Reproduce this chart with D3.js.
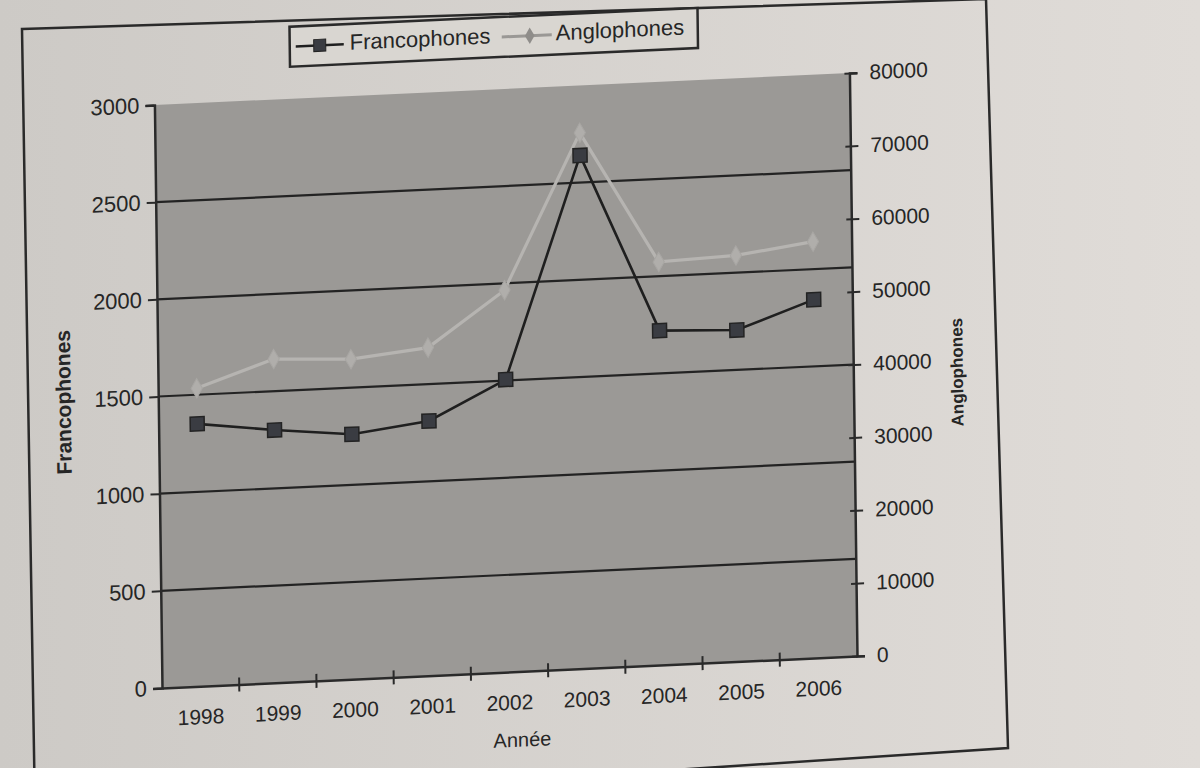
<!DOCTYPE html>
<html>
<head>
<meta charset="utf-8">
<script src="https://cdn.jsdelivr.net/npm/d3@7"></script>
<style>
  html, body { margin: 0; padding: 0; background: #d8d5d0; }
  svg { display: block; }
  text { font-family: "Liberation Sans", Arial, sans-serif; fill: #262626; }
</style>
</head>
<body>
<svg id="chart" width="1200" height="768"></svg>
<script>
// ---- data ----
const years = ["1998", "1999", "2000", "2001", "2002", "2003", "2004", "2005", "2006"];
const francophones = [1350, 1300, 1260, 1310, 1505, 2640, 1720, 1705, 1843];
const anglophones = [40900, 44400, 43900, 45000, 52400, 73500, 55300, 55700, 57100];
const leftTicks = [0, 500, 1000, 1500, 2000, 2500, 3000];
const rightTicks = [0, 10000, 20000, 30000, 40000, 50000, 60000, 70000, 80000];
const seriesNames = ["Francophones", "Anglophones"];
const xTitle = "Année";

// ---- layout ----
const svg = d3.select("#chart");
const L = 162, R = 857, T = 105, B = 688;
const skewB = -0.046, skewC = 0.013; // photo perspective approximation

// background paper
const defs = svg.append("defs");
const grad = defs.append("linearGradient").attr("id", "paper").attr("x1", "0").attr("x2", "1").attr("y1", "0").attr("y2", "0");
grad.append("stop").attr("offset", "0").attr("stop-color", "#cdcac6");
grad.append("stop").attr("offset", "1").attr("stop-color", "#e0dcd8");
svg.append("rect").attr("width", 1200).attr("height", 768).attr("fill", "url(#paper)");

// outer frame (page border)
svg.append("path")
  .attr("d", d3.line()([[22, 29], [986, -1], [1008, 748], [35, 812]]) + "Z")
  .attr("fill", "none").attr("stroke", "#2a2a2a").attr("stroke-width", 2.5);

const g = svg.append("g")
  .attr("transform", `matrix(1,${skewB},${skewC},1,${-skewC * B},${-skewB * L})`);

const x = d3.scaleBand().domain(years).range([L, R]);
const yL = d3.scaleLinear().domain([0, 3000]).range([B, T]);
const yR = d3.scaleLinear().domain([0, 80000]).range([B, T]);
const cx = d => x(d) + x.bandwidth() / 2;

// plot area
g.append("rect").attr("x", L).attr("y", T).attr("width", R - L).attr("height", B - T)
  .attr("fill", "#9b9996");

// gridlines
g.append("g").selectAll("line")
  .data(leftTicks.filter(v => v > 0 && v < 3000))
  .join("line")
  .attr("x1", L).attr("x2", R)
  .attr("y1", d => yL(d)).attr("y2", d => yL(d))
  .attr("stroke", "#232323").attr("stroke-width", 2.2);

// left axis
const axL = g.append("g").attr("transform", `translate(${L},0)`)
  .call(d3.axisLeft(yL).tickValues(leftTicks).tickFormat(d3.format("d")).tickSize(9).tickPadding(6));
axL.select(".domain").attr("stroke", "#2a2a2a").attr("stroke-width", 2.5);
axL.selectAll(".tick line").attr("stroke", "#2a2a2a").attr("stroke-width", 2);
axL.selectAll("text").style("font-size", "22px").attr("fill", "#262626");

// right axis
const axR = g.append("g").attr("transform", `translate(${R},0)`)
  .call(d3.axisRight(yR).tickValues(rightTicks).tickFormat(d3.format("d")).tickSize(8).tickPadding(12));
axR.select(".domain").attr("stroke", "#2a2a2a").attr("stroke-width", 2.5);
axR.selectAll(".tick line").attr("stroke", "#2a2a2a").attr("stroke-width", 2).attr("x1", -5);
axR.selectAll("text").style("font-size", "21px").attr("fill", "#262626");

// bottom axis (labels centred in categories, ticks between categories)
const axB = g.append("g").attr("transform", `translate(0,${B})`)
  .call(d3.axisBottom(x).tickSize(0).tickPadding(23));
axB.select(".domain").attr("stroke", "#2a2a2a").attr("stroke-width", 2.5);
axB.selectAll("text").style("font-size", "21px").attr("fill", "#262626");
g.append("g").selectAll("line")
  .data(years.slice(1))
  .join("line")
  .attr("x1", d => x(d)).attr("x2", d => x(d))
  .attr("y1", B - 7).attr("y2", B + 7)
  .attr("stroke", "#2a2a2a").attr("stroke-width", 2);

// axis titles
g.append("text").attr("transform", `translate(69,398) rotate(-90)`)
  .attr("text-anchor", "middle").attr("dominant-baseline", "middle")
  .style("font-size", "21px").style("font-weight", "bold").text(seriesNames[0]);
g.append("text").attr("transform", `translate(962,409) rotate(-90)`)
  .attr("text-anchor", "middle").attr("dominant-baseline", "middle")
  .style("font-size", "17px").style("font-weight", "bold").text(seriesNames[1]);
g.append("text").attr("x", (L + R) / 2 + 12).attr("y", 763)
  .attr("text-anchor", "middle")
  .style("font-size", "20px").text(xTitle);

// series: Anglophones (light grey, diamonds)
const angloColor = "#b6b4b1";
g.append("path").datum(anglophones)
  .attr("d", d3.line().x((d, i) => cx(years[i])).y(d => yR(d)))
  .attr("fill", "none").attr("stroke", angloColor).attr("stroke-width", 3.2);
g.append("g").selectAll("path")
  .data(anglophones)
  .join("path")
  .attr("transform", (d, i) => `translate(${cx(years[i])},${yR(d)})`)
  .attr("d", d3.symbol(d3.symbolDiamond, 110))
  .attr("fill", "#b0aeab").attr("stroke", "#a8a6a3").attr("stroke-width", 1);

// series: Francophones (dark, squares)
g.append("path").datum(francophones)
  .attr("d", d3.line().x((d, i) => cx(years[i])).y(d => yL(d)))
  .attr("fill", "none").attr("stroke", "#1f1f1f").attr("stroke-width", 2.6);
g.append("g").selectAll("rect")
  .data(francophones)
  .join("rect")
  .attr("x", (d, i) => cx(years[i]) - 7).attr("y", d => yL(d) - 7)
  .attr("width", 14).attr("height", 14)
  .attr("fill", "#3a3c42").attr("stroke", "#232323").attr("stroke-width", 1.5);

// legend
const lg = g.append("g").attr("transform", "translate(298,33)");
lg.append("rect").attr("width", 408).attr("height", 40)
  .attr("fill", "#d9d6d1").attr("stroke", "#2a2a2a").attr("stroke-width", 2.5);
lg.append("line").attr("x1", 6).attr("x2", 54).attr("y1", 20).attr("y2", 20)
  .attr("stroke", "#1f1f1f").attr("stroke-width", 2.6);
lg.append("rect").attr("x", 24).attr("y", 14).attr("width", 12).attr("height", 12)
  .attr("fill", "#3a3c42").attr("stroke", "#232323");
lg.append("text").attr("x", 60).attr("y", 20).attr("dominant-baseline", "middle")
  .style("font-size", "22px").text(seriesNames[0]);
lg.append("line").attr("x1", 212).attr("x2", 262).attr("y1", 20).attr("y2", 20)
  .attr("stroke", "#9a9895").attr("stroke-width", 3);
lg.append("path").attr("transform", "translate(240,20)")
  .attr("d", d3.symbol(d3.symbolDiamond, 80)).attr("fill", "#8f8d8a");
lg.append("text").attr("x", 266).attr("y", 20).attr("dominant-baseline", "middle")
  .style("font-size", "22px").text(seriesNames[1]);
</script>
</body>
</html>
